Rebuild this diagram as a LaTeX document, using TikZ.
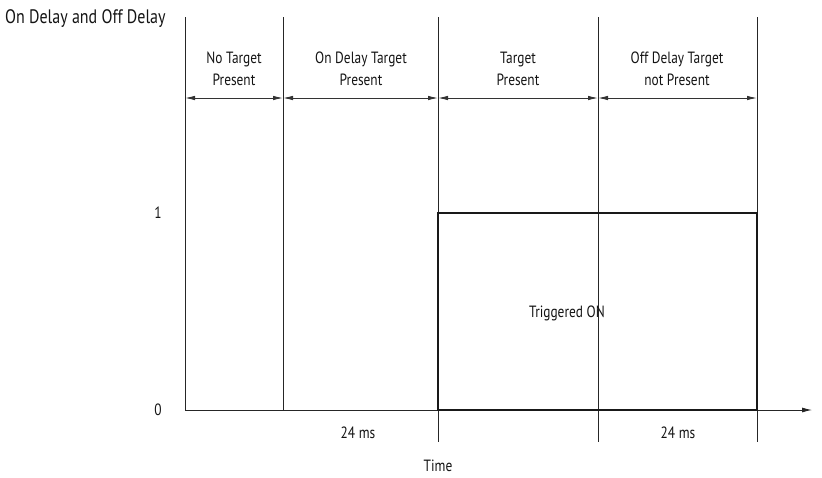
\documentclass[tikz,border=0pt]{standalone}
\usepackage{fontspec}
\setmainfont{PT Sans}[FakeStretch=0.82]
\usetikzlibrary{arrows.meta}
\begin{document}
\begin{tikzpicture}[x=1pt,y=-1pt,
  lbl/.style={font=\fontsize{16.3}{21.5}\selectfont, inner sep=0pt, align=center, text=black!92},
  thin line/.style={line width=0.9pt, draw=black!85},
  dim/.style={line width=0.9pt, draw=black!80, {Latex[length=10pt,width=4.5pt]}-{Latex[length=10pt,width=4.5pt]}},
  sig/.style={line width=1.8pt, draw=black!90}]
\useasboundingbox (0,0) rectangle (822,477);
% key coordinates
\coordinate (yt) at (185,17);
\coordinate (o) at (185,410);
\coordinate (xe) at (812,410);
\foreach \n/\x in {a/283,b/438,c/598,d/757}{
  \coordinate (\n t) at (\x,17);
  \coordinate (\n m) at (\x,98);
  \coordinate (\n o) at (\x,410);
}
\coordinate (ym) at (185,98);
\coordinate (bb) at (438,442);
\coordinate (cb) at (598,442);
\coordinate (db) at (757,442);
\coordinate (b1) at (438,213);
\coordinate (d1) at (757,213);
% axes
\draw[thin line] (yt) -- (o);
\draw[thin line, -{Latex[length=10pt,width=5pt]}] (o) -- (xe);
% verticals
\draw[thin line] (at) -- (ao);
\draw[thin line] (bt) -- (bb);
\draw[thin line] (ct) -- (cb);
\draw[thin line] (dt) -- (db);
% dimension arrows
\draw[dim] (ym) -- (am);
\draw[dim] (am) -- (bm);
\draw[dim] (bm) -- (cm);
\draw[dim] (cm) -- (dm);
% signal
\draw[sig] (bo) -- (b1) -- (d1) -- (do) -- cycle;
% labels
\node[lbl, anchor=west, font=\fontsize{19.5}{22}\selectfont] (title) at (5,19) {On Delay and Off Delay};
\node[lbl] (l1) at (234,69) {No Target\\Present};
\node[lbl] (l2) at (361,69) {On Delay Target\\Present};
\node[lbl] (l3) at (518,69) {Target\\Present};
\node[lbl] (l4) at (677,69) {Off Delay Target\\not Present};
\node[lbl] (one) at (158,213) {1};
\node[lbl] (zero) at (158,410) {0};
\node[lbl] (trig) at (567,313) {Triggered ON};
\node[lbl] (ms1) at (358,433) {24 ms};
\node[lbl] (ms2) at (678,433) {24 ms};
\node[lbl] (time) at (438,466) {Time};
\end{tikzpicture}
\end{document}
